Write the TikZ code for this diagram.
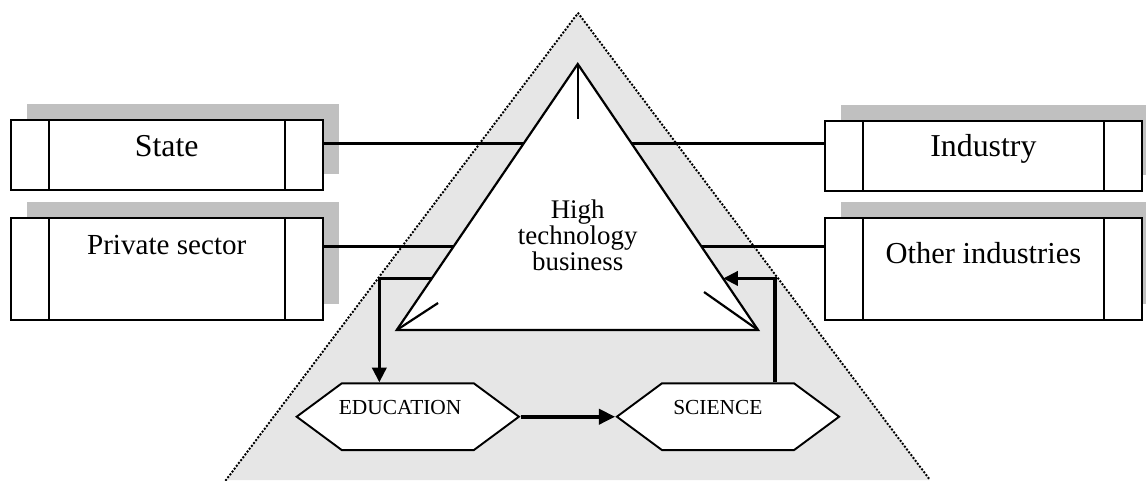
\documentclass[tikz,border=0pt]{standalone}
\usepackage{fontspec}
\setmainfont{Liberation Serif}
\usetikzlibrary{arrows.meta,shapes.symbols,shadows,calc}
\definecolor{pyrfill}{RGB}{230,230,230}
\definecolor{boxshadow}{RGB}{192,192,192}

\begin{document}
\begin{tikzpicture}[scale=0.128,
        orgbox/.style={draw, fill=white, line width=0.75pt, inner sep=0pt,
            drop shadow={shadow xshift=2.05mm, shadow yshift=2.05mm, fill=boxshadow, opacity=1},
            path picture={
                \draw[line width=0.75pt] ([xshift=4.86mm]path picture bounding box.north west) -- ([xshift=4.86mm]path picture bounding box.south west);
                \draw[line width=0.75pt] ([xshift=-4.86mm]path picture bounding box.north east) -- ([xshift=-4.86mm]path picture bounding box.south east);}},
        hexnode/.style={shape=signal, signal to=east and west, signal pointer angle=73, draw, fill=white,
            line width=0.7pt, inner sep=0pt, minimum width=2.845cm, minimum height=0.854cm},
        link/.style={line width=1.25pt},
        flow/.style={line width=1.3pt, -{Triangle[length=1.9mm,width=1.8mm]}},
        every label/.style={inner sep=0pt, text height=1.5ex, text depth=.25ex}]
                \useasboundingbox (0,0) rectangle (114.6,-48);
                \coordinate (ptop) at (57.8,-1.3);
                \coordinate (pleft) at (22.6,-48);
                \coordinate (pright) at (93.0,-48);
                \fill[pyrfill] (ptop) -- (pleft) -- (pright) -- cycle;
                \draw[line width=1pt, line cap=round, dash pattern=on 0pt off 1.3pt] (pleft) -- (ptop) -- (pright);
                \coordinate (top) at (57.77,-6.4);
                \coordinate (bl) at (39.67,-33.0);
                \coordinate (br) at (75.8,-33.0);
                \draw[fill=white, line width=0.8pt] (top) -- (bl) -- (br) -- cycle;
                \draw[line width=0.8pt] (top) -- ++(0,-5.5);
                \draw[line width=0.8pt] (bl) -- ++(4.13,2.7);
                \draw[line width=0.8pt] (br) -- ++(-5.4,3.8);
                \node[align=center, font=\fontsize{9.8}{9.5}\selectfont] (htb) at (57.77,-23.5) {High\\technology\\business};
                \node[orgbox, minimum width=3.994cm, minimum height=0.896cm,
                    label={[yshift=2.4pt, font=\fontsize{11.6}{14}\selectfont]center:State}] (st) at (16.67,-15.5) {};
                \node[orgbox, minimum width=3.994cm, minimum height=1.302cm,
                    label={[yshift=8.2pt, font=\fontsize{10.6}{13}\selectfont]center:Private sector}] (pr) at (16.67,-26.92) {};
                \node[orgbox, minimum width=4.054cm, minimum height=0.896cm,
                    label={[yshift=2.7pt, font=\fontsize{11.6}{14}\selectfont]center:Industry}] (ind) at (98.33,-15.57) {};
                \node[orgbox, minimum width=4.054cm, minimum height=1.306cm,
                    label={[yshift=5.1pt, font=\fontsize{11.1}{13}\selectfont]center:Other industries}] (oth) at (98.33,-26.92) {};
                \coordinate (sl) at ($(top)!0.298!(bl)$);
                \coordinate (pl) at ($(top)!0.687!(bl)$);
                \coordinate (le) at ($(top)!0.806!(bl)$);
                \coordinate (sr) at ($(top)!0.298!(br)$);
                \coordinate (or) at ($(top)!0.687!(br)$);
                \coordinate (re) at ($(top)!0.806!(br)$);
                \draw[link] (st.east |- sl) -- (sl);
                \draw[link] (pr.east |- pl) -- (pl);
                \draw[link] (sr) -- (ind.west |- sr);
                \draw[link] (or) -- (oth.west |- or);
                \node[hexnode, label={[xshift=-2.8pt, yshift=3.6pt, font=\fontsize{7.8}{9}\selectfont]center:EDUCATION}] (edu) at (40.78,-41.67) {};
                \node[hexnode, label={[xshift=-3.7pt, yshift=3.6pt, font=\fontsize{7.8}{9}\selectfont]center:SCIENCE}] (sci) at (72.8,-41.67) {};
                \draw[flow] (le) -| ($(edu.north)+(-2.85,0)$);
                \draw[flow] ($(sci.north)+(4.67,0)$) |- (re);
                \draw[flow, line width=1.6pt, -{Triangle[length=2.1mm,width=1.9mm]}] (edu.east) -- (sci.west);
\end{tikzpicture}
\end{document}
